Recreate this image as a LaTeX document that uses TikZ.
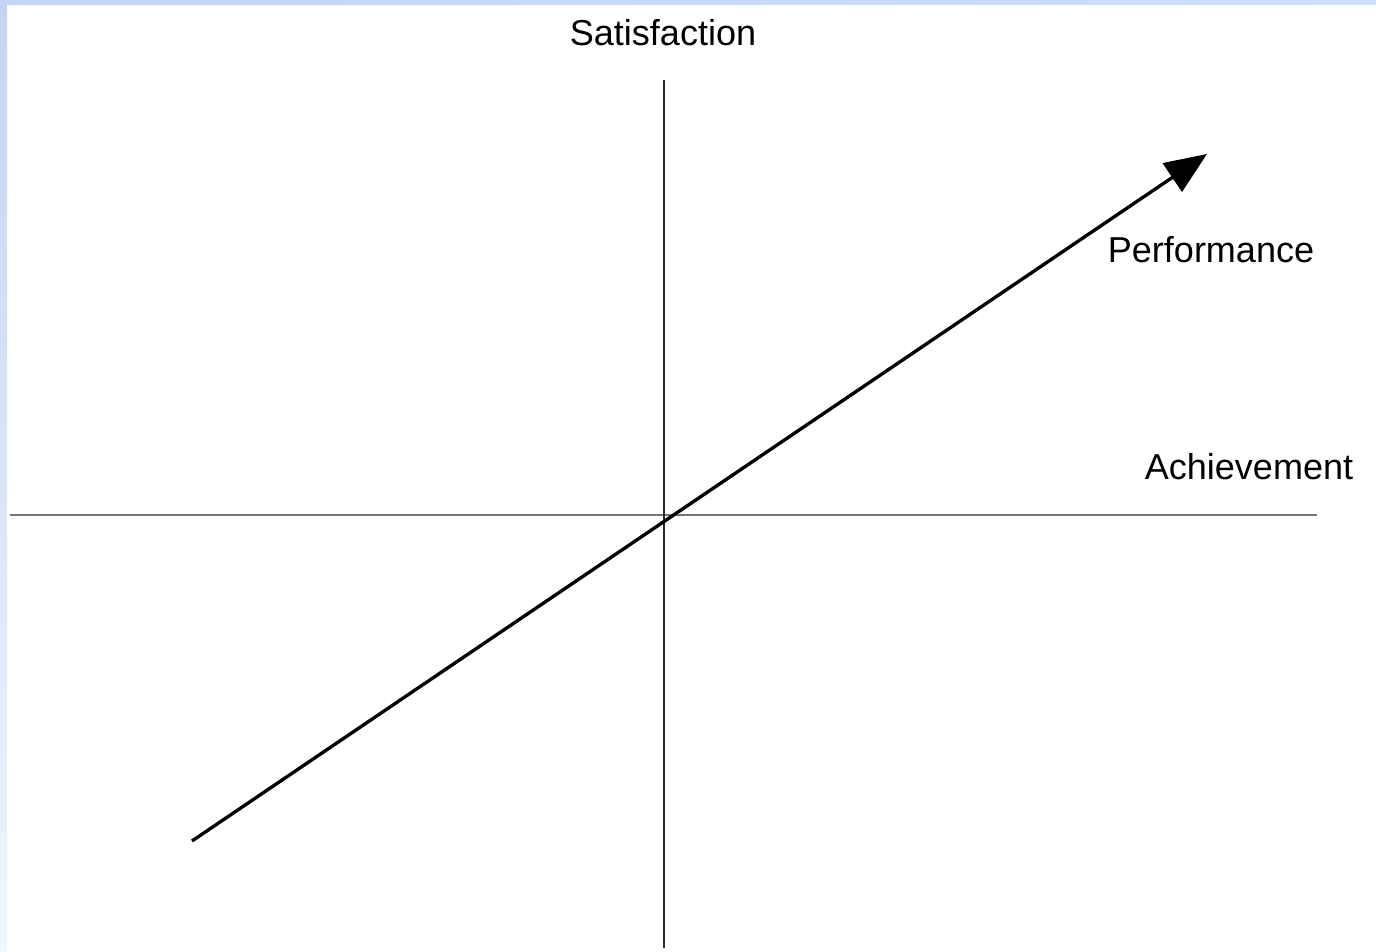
\documentclass[tikz,border=0pt]{standalone}
\usepackage{fontspec}
\setmainfont{Liberation Sans}
\usepackage{xcolor}
\usetikzlibrary{arrows.meta,positioning}
\definecolor{frameblue}{HTML}{C4D4F3}
\definecolor{framepale}{HTML}{F1F5FD}
\definecolor{frametop}{HTML}{D0DEF7}
\definecolor{axisgray}{HTML}{767676}
\definecolor{axisdark}{HTML}{2A2A2A}

\begin{document}
\begin{tikzpicture}[x=0.02cm,y=-0.02cm,
    axislabel/.style={font=\fontsize{20.5}{24}\selectfont, inner sep=0pt}]
  % frame and margins
  \fill[white] (0,0) rectangle (1376,952);
  \useasboundingbox (0,0) rectangle (1376,952);
  \shade[top color=frameblue, bottom color=framepale] (0,0) rectangle (7,952);
  \shade[left color=frameblue, right color=frametop] (0,0) rectangle (1376,5);

  % axis ends
  \coordinate (xleft) at (10,515);
  \coordinate (xright) at (1317,515);
  \coordinate (ytop) at (664,80);
  \coordinate (ybottom) at (664,948);
  \coordinate (perfstart) at (192,841);
  \coordinate (perfend) at (1207,154);

  \draw[axisgray, line width=1.6pt] (xleft) -- (xright);
  \draw[axisdark, line width=1.4pt] (ytop) -- (ybottom);
  \draw[black, line width=1.9pt, -{Triangle[length=0.84cm,width=0.68cm]}] (perfstart) -- (perfend);

  % labels
  \node[axislabel] (satisfaction) at (663,33) {Satisfaction};
  \node[axislabel] (performance) at (1211,250) {Performance};
  \node[axislabel] (achievement) at (1249,467) {Achievement};
\end{tikzpicture}
\end{document}
